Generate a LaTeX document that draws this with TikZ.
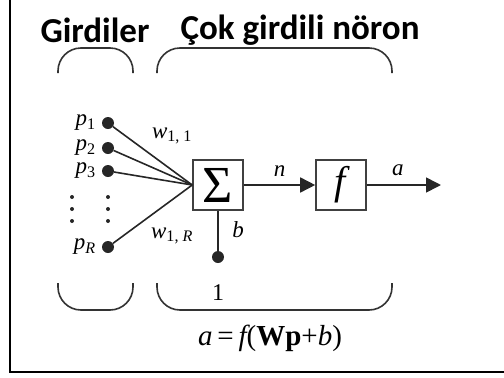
\documentclass[tikz,border=0pt]{standalone}
\usepackage{fontspec}
\setmainfont{Liberation Serif}
\newfontfamily\headfont{Carlito}
\usetikzlibrary{arrows.meta,positioning}

\begin{document}
\begin{tikzpicture}[x=1pt,y=-1pt,
    lbl/.style={inner sep=0pt,font=\fontsize{23}{25}\selectfont\itshape},
    dot/.style={circle,fill=black!85,inner sep=0pt,minimum size=12pt},
    blk/.style={draw=black!75,line width=1.6pt,minimum size=50pt,inner sep=0pt,fill=white},
    wire/.style={draw=black!85,line width=1.6pt},
    brace/.style={draw=black!80,line width=1.6pt,rounded corners=23pt},
    head/.style={inner sep=0pt,font=\headfont\bfseries\fontsize{35}{37}\selectfont}]
  \useasboundingbox (0,0) rectangle (504,378);
  % frame
  \draw[line width=2pt] (10,0) -- (10,372) -- (504,372);

  % headers and braces
  \node[head] (hin) at (95,30) {Girdiler};
  \node[head] (hneuron) at (300,30) {Çok girdili nöron};
  \draw[brace] (58,73) -- (58,48) -- (133,48) -- (133,73);
  \draw[brace] (157,73) -- (157,48) -- (392,48) -- (392,73);
  \draw[brace] (58,283) -- (58,310) -- (133,310) -- (133,283);
  \draw[brace] (157,283) -- (157,310) -- (392,310) -- (392,283);

  % inputs
  \node[dot] (p1) at (108,123) {};
  \node[dot] (p2) at (108,148) {};
  \node[dot] (p3) at (108,171) {};
  \node[dot] (pR) at (108,247) {};
  \node[lbl,left=6pt of p1] (lp1) {p\textsubscript{\upshape 1}};
  \node[lbl,left=6pt of p2] (lp2) {p\textsubscript{\upshape 2}};
  \node[lbl,left=6pt of p3] (lp3) {p\textsubscript{\upshape 3}};
  \node[lbl,left=6pt of pR] (lpR) {p\textsubscript{R}};
  \foreach \y in {197,209,221} {
    \fill[black!85] (72,\y) circle (2pt);
    \fill[black!85] (108,\y) circle (2pt);
  }

  % neuron
  \node[blk,font=\fontsize{52}{54}\selectfont\rmfamily\upshape] (sum) at (218,185) {Σ};
  \node[blk,font=\fontsize{40}{42}\selectfont\rmfamily\itshape] (act) at (341,185) {f\kern2pt};
  \foreach \p in {p1,p2,p3,pR}
    \draw[wire] (\p) -- (sum.west);
  \node[lbl] (w11) at (172,136) {w\textsubscript{\upshape 1, 1}};
  \node[lbl] (w1R) at (172,236) {w\textsubscript{\upshape 1, \itshape R}};

  % bias
  \node[dot] (one) at (218,257) {};
  \draw[wire] (sum) -- (one);
  \node[lbl] (b) at (238,230) {b};
  \node[lbl,font=\fontsize{24}{26}\selectfont] (lone) at (218,293) {1};

  % output
  \coordinate (out) at (441,185);
  \draw[wire,-{Triangle[length=15pt,width=15pt]}] (sum) -- (act)
    node[lbl,midway,above=8pt] (n) {n};
  \draw[wire,-{Triangle[length=15pt,width=15pt]}] (act) -- (out)
    node[lbl,pos=0.42,above=8pt] (a) {a};

  \node[lbl,font=\fontsize{29}{31}\selectfont] (eq) at (270,338)
    {\itshape a\upshape\,=\,\itshape f\upshape(\textbf{Wp}+\itshape b\upshape)};
\end{tikzpicture}
\end{document}
